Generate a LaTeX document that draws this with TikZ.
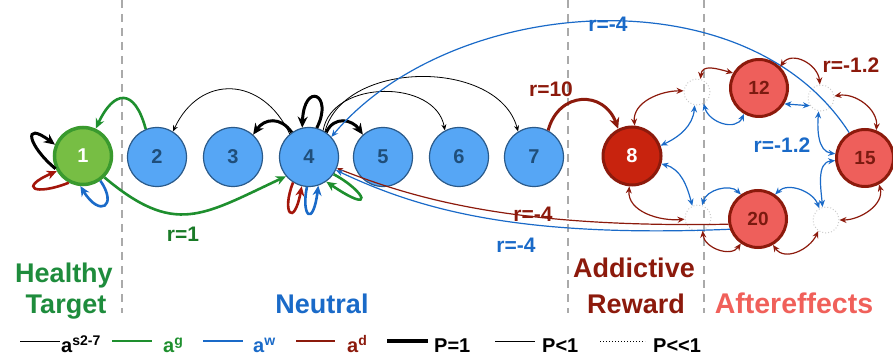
\documentclass[tikz,border=0pt]{standalone}
\usepackage{fontspec}
\setmainfont{Liberation Sans}
\usetikzlibrary{arrows.meta}
\definecolor{gE}{HTML}{1E8F2E}
\definecolor{gT}{HTML}{1E8C3C}
\definecolor{gFill}{HTML}{77BE44}
\definecolor{gBorder}{HTML}{3A9A2E}
\definecolor{bFill}{HTML}{56A6F5}
\definecolor{bBorder}{HTML}{2A5A8A}
\definecolor{bText}{HTML}{1F4E7A}
\definecolor{bE}{HTML}{1A6AC8}
\definecolor{rE}{HTML}{8C1A0C}
\definecolor{rFill}{HTML}{C8230E}
\definecolor{sFill}{HTML}{EE5F5B}
\definecolor{sText}{HTML}{7A1A10}
\definecolor{aT}{HTML}{F0605A}
\definecolor{sepGray}{HTML}{AAAAAA}
\begin{document}
\begin{tikzpicture}[x=1pt,y=1pt,
  numfont/.style={font=\bfseries\fontsize{20}{20}\selectfont},
  gnode/.style={circle, inner sep=0pt, numfont, minimum size=57pt, fill=gFill, draw=gBorder, line width=3.5pt, text=white},
  bnode/.style={circle, inner sep=0pt, numfont, minimum size=59pt, fill=bFill, draw=bBorder, line width=1.2pt, text=bText},
  rnode/.style={circle, inner sep=0pt, numfont, minimum size=58pt, fill=rFill, draw=rE, line width=3pt, text=white},
  pnode/.style={circle, inner sep=0pt, font=\bfseries\fontsize{19}{19}\selectfont, minimum size=57pt, fill=sFill, draw=rE, line width=3pt, text=sText},
  dnode/.style={circle, inner sep=0pt, minimum size=26pt, draw=black!20, dotted, line width=1pt},
  sepline/.style={draw=sepGray, line width=1.5pt, dash pattern=on 8pt off 6pt},
  thickblk/.style={draw=black, line width=3pt, -{Stealth[length=11pt,width=10pt]}},
  thinblk/.style={draw=black, line width=0.8pt, -{Stealth[length=6pt,width=5pt]}},
  grnarr/.style={draw=gE, line width=2.6pt, -{Stealth[length=10pt,width=9pt]}},
  bluloop/.style={draw=bE, line width=2.6pt, -{Stealth[length=10pt,width=9pt]}},
  redloop/.style={draw=rE!80!red, line width=2.6pt, -{Stealth[length=10pt,width=9pt]}},
  rten/.style={draw=rE, line width=3pt, -{Stealth[length=11pt,width=10pt]}},
  bluthin/.style={draw=bE, line width=1.2pt, -{Stealth[length=7pt,width=6pt]}},
  redthin/.style={draw=rE, line width=1.2pt, -{Stealth[length=6pt,width=5pt]}},
  ringr/.style={draw=rE, line width=1.2pt, {Stealth[length=7pt,width=6pt]}-{Stealth[length=7pt,width=6pt]}},
  ringb/.style={draw=bE, line width=1.2pt, {Stealth[length=7pt,width=6pt]}-{Stealth[length=7pt,width=6pt]}},
  lbl/.style={inner sep=0pt, anchor=base, font=\bfseries\fontsize{21}{21}\selectfont},
  cat/.style={inner sep=0pt, anchor=base, font=\bfseries\fontsize{27}{27}\selectfont},
  leg/.style={inner sep=0pt, anchor=base west, font=\bfseries\fontsize{20}{20}\selectfont}
]
\useasboundingbox (0,0) rectangle (893,356);

% separators
\draw[sepline] (122,356) -- (122,43);
\draw[sepline] (568,356) -- (568,43);
\draw[sepline] (704,356) -- (704,43);

% nodes
\node[gnode] (n1) at (83,200) {1};
\node[bnode] (n2) at (157,199) {2};
\node[bnode] (n3) at (233,199) {3};
\node[bnode] (n4) at (309,199) {4};
\node[bnode] (n5) at (383,199) {5};
\node[bnode] (n6) at (459,199) {6};
\node[bnode] (n7) at (534,199) {7};
\node[rnode] (n8) at (632,200) {8};
\node[pnode] (n12) at (759,268) {12};
\node[pnode] (n15) at (865,198) {15};
\node[pnode] (n20) at (758,137) {20};
\node[dnode] (dul) at (697,264) {};
\node[dnode] (dur) at (821,258) {};
\node[dnode] (dll) at (698,138) {};
\node[dnode] (dlr) at (826,136) {};

% node 1
\draw[grnarr] (n2.112) to[out=105, in=65, looseness=2.2] (n1.65);
\draw[grnarr] (n1.-45) to[out=-40, in=205, looseness=1.3] (n4.220);
\draw[thickblk] (n1.205) .. controls (28,210) and (22,236) .. (n1.158);
\draw[redloop] (n1.242) .. controls (35,160) and (18,168) .. (n1.210);
\draw[bluloop] (n1.-55) .. controls (118,150) and (100,138) .. (n1.-95);

% node 4 black
\draw[thickblk] (n4.125) to[out=125, in=55, looseness=1.3] (n3.48);
\draw[thickblk] (n4.75) .. controls (334,262) and (304,275) .. (n4.103);
\draw[thickblk] (n4.55) to[out=65, in=125, looseness=1.3] (n5.132);
\draw[thinblk] (n4.130) to[out=115, in=65, looseness=1.4] (n2.58);
\draw[thinblk] (n4.62) to[out=80, in=100, looseness=1.1] (n6.118);
\draw[thinblk] (n4.58) to[out=75, in=105, looseness=1] (n7.122);

% node 4 bottom loops
\draw[redloop] (n4.238) .. controls (281,143) and (294,128) .. (n4.256);
\draw[bluloop] (n4.266) .. controls (301,140) and (313,128) .. (n4.288);
\draw[grnarr] (n4.-35) .. controls (365,165) and (377,140) .. (n4.-55);

% r=10
\draw[rten] (n7.62) to[out=75, in=110, looseness=1.5] (n8.117);

% long r=-4 arcs
\draw[bluthin] (n15.122) .. controls (745,385) and (450,360) .. (n4.42);
\draw[redthin] (n20.190) .. controls (520,128) and (420,155) .. (n4.-22);
\draw[bluthin] (n20.200) .. controls (520,118) and (420,146) .. (n4.-26);

% aftereffects ring, red
\draw[ringr] (n8.85) to[out=95, in=180, looseness=1] (dul.175);
\draw[ringr] (dul.75) to[out=85, in=165, looseness=1.2] (n12.150);
\draw[ringr] (n12.45) to[out=55, in=95, looseness=1.2] (dur.95);
\draw[ringr] (dur.8) to[out=10, in=85, looseness=1] (n15.68);
\draw[ringr] (n15.-62) to[out=-75, in=0, looseness=1] (dlr.0);
\draw[ringr] (dlr.235) to[out=245, in=-55, looseness=1.1] (n20.-60);
\draw[ringr] (n20.235) to[out=235, in=-85, looseness=1.1] (dll.-70);
\draw[ringr] (n8.-95) to[out=-95, in=185, looseness=1] (dll.185);

% aftereffects ring, blue
\draw[ringb] (n8.20) to[out=25, in=-95, looseness=1] (dul.-100);
\draw[ringb] (n8.-15) to[out=-15, in=105, looseness=1] (dll.115);
\draw[ringb] (dul.-60) to[out=-75, in=245, looseness=1.2] (n12.240);
\draw[ringb] (n12.-32) -- (dur.215);
\draw[ringb] (dur.-100) to[out=-95, in=172, looseness=1] (n15.172);
\draw[ringb] (n15.185) to[out=185, in=95, looseness=1] (dlr.105);
\draw[ringb] (n20.55) to[out=45, in=110, looseness=1] (dlr.120);
\draw[ringb] (n20.125) to[out=135, in=75, looseness=1] (dll.72);

% edge labels
\node[lbl, text=gE!85!black] (l1) at (183,114) {r=1};
\node[lbl, text=rE] (l10) at (551,259) {r=10};
\node[lbl, text=bE] (ltop) at (608,324) {r=-4};
\node[lbl, text=rE] (lr4) at (533,134) {r=-4};
\node[lbl, text=bE] (lb4) at (516,103) {r=-4};
\node[lbl, text=bE] (lb12) at (782,203) {r=-1.2};
\node[lbl, text=rE] (lr12) at (851,283) {r=-1.2};

% category labels
\node[cat, text=gT] (cH) at (64,74) {Healthy};
\node[cat, text=gT] (cT) at (66,43) {Target};
\node[cat, text=bE] (cN) at (322,43) {Neutral};
\node[cat, text=rE] (cA) at (634,78) {Addictive};
\node[cat, text=rE] (cR) at (636,43) {Reward};
\node[cat, text=aT, font=\bfseries\fontsize{28.5}{28.5}\selectfont] (cF) at (794,43) {Aftereffects};

% legend
\draw[black, line width=1pt] (20,15) -- (60,15);
\node[leg] (g1) at (61,4) {a\raisebox{7pt}{\fontsize{14}{14}\selectfont s2-7}};
\draw[gE, line width=1.2pt] (112,15) -- (152,15);
\node[leg, text=gE] (g2) at (163,4) {a\raisebox{7pt}{\fontsize{14}{14}\selectfont g}};
\draw[bE, line width=1.2pt] (203,15) -- (243,15);
\node[leg, text=bE] (g3) at (253,4) {a\raisebox{7pt}{\fontsize{14}{14}\selectfont w}};
\draw[rE, line width=1.2pt] (296,15) -- (335,15);
\node[leg, text=rE] (g4) at (347,4) {a\raisebox{7pt}{\fontsize{14}{14}\selectfont d}};
\draw[black, line width=3.5pt] (387,15) -- (428,15);
\node[leg] (g5) at (434,4) {P=1};
\draw[black, line width=1pt] (495,15) -- (535,15);
\node[leg] (g6) at (542,4) {P<1};
\draw[black, line width=1pt, dotted] (600,15) -- (645,15);
\node[leg] (g7) at (653,4) {P<{}<1};
\end{tikzpicture}
\end{document}
